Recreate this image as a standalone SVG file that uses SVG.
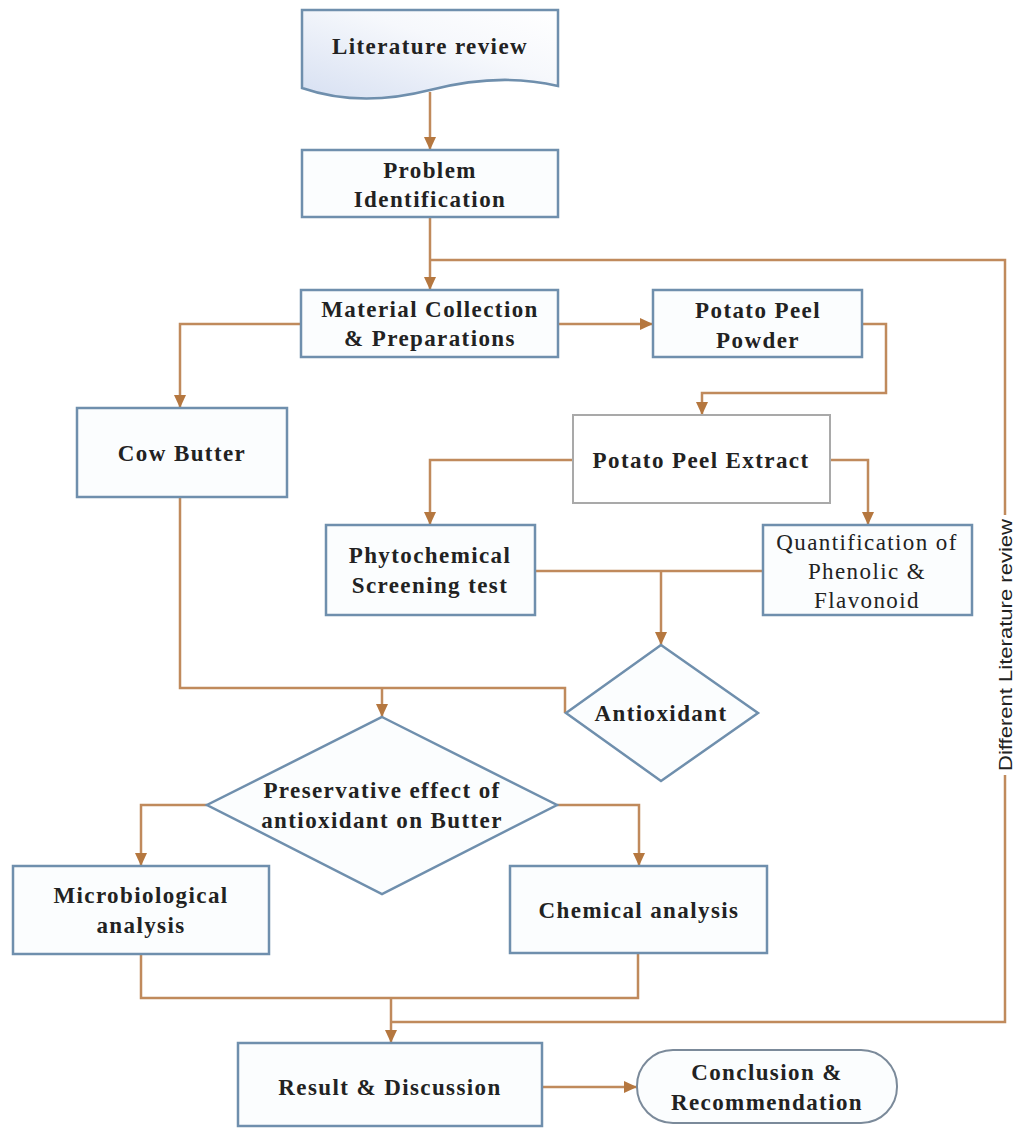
<svg xmlns="http://www.w3.org/2000/svg" width="1020" height="1129" viewBox="0 0 1020 1129">
<defs>
<linearGradient id="docg" x1="0" y1="1" x2="1" y2="0">
<stop offset="0" stop-color="#d7e0f2"/>
<stop offset="0.6" stop-color="#f6f8fc"/>
<stop offset="1" stop-color="#ffffff"/>
</linearGradient>
<marker id="ah" markerUnits="userSpaceOnUse" markerWidth="13" markerHeight="12" refX="13" refY="6" orient="auto">
<path d="M0,0 L13,6 L0,12 z" fill="#b5773f"/>
</marker>
<style>
.box{fill:#fbfdfe;stroke:#6f8fad;stroke-width:2.5}
.gbox{fill:#ffffff;stroke:#a9a9a9;stroke-width:2}
.c{fill:none;stroke:#c08a5c;stroke-width:2.5}
.a{marker-end:url(#ah)}
text{font-family:"Liberation Serif","Times New Roman",serif;font-size:23px;letter-spacing:1.4px;font-weight:bold;fill:#222;text-anchor:middle;dominant-baseline:central}
.r{font-weight:normal}
.side{font-family:"Liberation Sans","Arial",sans-serif;font-weight:normal;font-size:19px;letter-spacing:0}
</style>
</defs>
<rect width="1020" height="1129" fill="#ffffff"/>

<g id="connectors">
<path class="c a" d="M430,92 V150"/>
<path class="c a" d="M430,217 V290"/>
<path class="c" d="M430,260 H1005 V515"/>
<path class="c" d="M1005,775 V1022 H391"/>
<path class="c a" d="M558,324 H653"/>
<path class="c a" d="M301,324 H180 V408"/>
<path class="c a" d="M862,324 H886 V393 H702 V415"/>
<path class="c a" d="M573,460 H430 V525"/>
<path class="c a" d="M830,460 H868 V525"/>
<path class="c" d="M535,571 H763"/>
<path class="c a" d="M661,571 V645"/>
<path class="c" d="M180,497 V688 H565 V713"/>
<path class="c a" d="M382,688 V717"/>
<path class="c a" d="M207,805 H141 V866"/>
<path class="c a" d="M557,805 H639 V866"/>
<path class="c" d="M141,954 V998 H638 V954"/>
<path class="c a" d="M391,998 V1043"/>
<path class="c a" d="M542,1087 H637"/>
</g>
<text class="side" transform="translate(1005,645) rotate(-90)" textLength="252" lengthAdjust="spacingAndGlyphs">Different Literature review</text>

<g id="literature-review">
<path d="M302,10 H558 V86 Q500,72 430,90 Q360,108 302,88 Z" fill="url(#docg)" stroke="#6f8fad" stroke-width="2.5"/>
<text x="430" y="46">Literature review</text>
</g>
<g id="problem-identification">
<rect class="box" x="302" y="150" width="256" height="67"/>
<text x="430" y="170">Problem</text>
<text x="430" y="199">Identification</text>
</g>
<g id="material-collection">
<rect class="box" x="301" y="290" width="257" height="67"/>
<text x="430" y="309">Material Collection</text>
<text x="430" y="338">&amp; Preparations</text>
</g>
<g id="potato-peel-powder">
<rect class="box" x="653" y="290" width="209" height="67"/>
<text x="758" y="310">Potato Peel</text>
<text x="758" y="340">Powder</text>
</g>
<g id="cow-butter">
<rect class="box" x="77" y="408" width="210" height="89"/>
<text x="182" y="453">Cow Butter</text>
</g>
<g id="potato-peel-extract">
<rect class="gbox" x="573" y="415" width="257" height="88"/>
<text x="701" y="460">Potato Peel Extract</text>
</g>
<g id="phytochemical-screening">
<rect class="box" x="326" y="525" width="209" height="90"/>
<text x="430" y="555">Phytochemical</text>
<text x="430" y="585">Screening test</text>
</g>
<g id="quantification">
<rect class="box" x="763" y="525" width="209" height="90"/>
<text class="r" x="867" y="542">Quantification of</text>
<text class="r" x="867" y="571">Phenolic &amp;</text>
<text class="r" x="867" y="600">Flavonoid</text>
</g>
<g id="antioxidant">
<path class="box" d="M661,645 L758,713 L661,781 L566,713 Z"/>
<text x="661" y="713">Antioxidant</text>
</g>
<g id="preservative-effect">
<path class="box" d="M382,717 L557,805 L382,894 L207,805 Z"/>
<text x="382" y="790">Preservative effect of</text>
<text x="382" y="820">antioxidant on Butter</text>
</g>
<g id="microbiological-analysis">
<rect class="box" x="13" y="866" width="256" height="88"/>
<text x="141" y="895">Microbiological</text>
<text x="141" y="925">analysis</text>
</g>
<g id="chemical-analysis">
<rect class="box" x="510" y="866" width="257" height="87"/>
<text x="639" y="910">Chemical analysis</text>
</g>
<g id="result-discussion">
<rect class="box" x="238" y="1043" width="304" height="83"/>
<text x="390" y="1087">Result &amp; Discussion</text>
</g>
<g id="conclusion-recommendation">
<rect x="637" y="1050" width="260" height="73" rx="36" ry="36" fill="#fbfdfe" stroke="#7b8a9a" stroke-width="2"/>
<text x="767" y="1072">Conclusion &amp;</text>
<text x="767" y="1102">Recommendation</text>
</g>
</svg>
